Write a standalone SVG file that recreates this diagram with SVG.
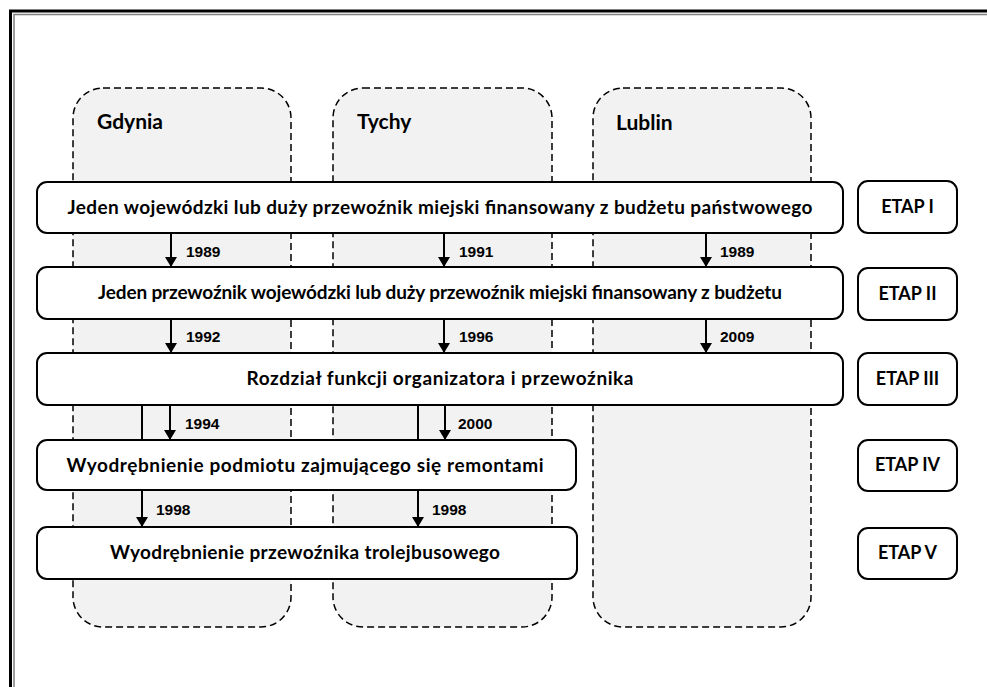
<svg xmlns="http://www.w3.org/2000/svg" width="987" height="687" viewBox="0 0 987 687">
  <defs>
    <marker id="arrow" viewBox="0 0 10 12" refX="10" refY="6" markerWidth="10" markerHeight="12" markerUnits="userSpaceOnUse" orient="auto">
      <path d="M0,0 L10,6 L0,12 Z" fill="#000"/>
    </marker>
  </defs>
  <style>
    .column { fill: #f2f2f2; stroke: #000; stroke-width: 1.5; stroke-dasharray: 7 4; }
    .col-label { font-family: Lato, "Liberation Sans", sans-serif; font-weight: bold; font-size: 21px; fill: #000; }
    .box { fill: #fff; stroke: #000; stroke-width: 2; }
    .box-text { font-family: Lato, "Liberation Sans", sans-serif; font-weight: bold; font-size: 19px; fill: #000; text-anchor: middle; }
    .stage-text { font-family: Lato, "Liberation Sans", sans-serif; font-weight: bold; font-size: 18px; fill: #000; text-anchor: middle; }
    .year { font-family: "Liberation Sans", Arial, sans-serif; font-weight: bold; font-size: 15.5px; fill: #000; }
    .link { stroke: #000; stroke-width: 2; fill: none; }
  </style>

  <rect width="987" height="687" fill="#fff"/>
  <!-- double page frame -->
  <rect x="10.5" y="11" width="1000" height="700" fill="none" stroke="#000" stroke-width="3"/>
  <rect x="14" y="14.5" width="1000" height="700" fill="none" stroke="#808080" stroke-width="1.5"/>

  <!-- city columns -->
  <g id="col-gdynia">
    <rect class="column" x="73" y="88" width="218" height="539" rx="30"/>
    <text class="col-label" x="97" y="129">Gdynia</text>
  </g>
  <g id="col-tychy">
    <rect class="column" x="333" y="88" width="219" height="539" rx="30"/>
    <text class="col-label" x="357" y="129">Tychy</text>
  </g>
  <g id="col-lublin">
    <rect class="column" x="593" y="88" width="218" height="539" rx="30"/>
    <text class="col-label" x="616" y="130">Lublin</text>
  </g>

  <!-- connectors between stages -->
  <g id="connectors">
    <line class="link" x1="171" y1="233" x2="171" y2="267" marker-end="url(#arrow)"/>
    <line class="link" x1="444" y1="233" x2="444" y2="267" marker-end="url(#arrow)"/>
    <line class="link" x1="706" y1="233" x2="706" y2="267" marker-end="url(#arrow)"/>
    <line class="link" x1="171" y1="319" x2="171" y2="353" marker-end="url(#arrow)"/>
    <line class="link" x1="444" y1="319" x2="444" y2="353" marker-end="url(#arrow)"/>
    <line class="link" x1="706" y1="319" x2="706" y2="353" marker-end="url(#arrow)"/>
    <line class="link" x1="170" y1="405" x2="170" y2="440" marker-end="url(#arrow)"/>
    <line class="link" x1="445" y1="405" x2="445" y2="440" marker-end="url(#arrow)"/>
    <line class="link" x1="142" y1="405" x2="142" y2="527" marker-end="url(#arrow)"/>
    <line class="link" x1="418" y1="405" x2="418" y2="527" marker-end="url(#arrow)"/>

    <text class="year" x="186" y="257">1989</text>
    <text class="year" x="459" y="257">1991</text>
    <text class="year" x="720" y="257">1989</text>
    <text class="year" x="186" y="342">1992</text>
    <text class="year" x="459" y="342">1996</text>
    <text class="year" x="720" y="342">2009</text>
    <text class="year" x="185" y="429">1994</text>
    <text class="year" x="458" y="429">2000</text>
    <text class="year" x="156" y="515">1998</text>
    <text class="year" x="432" y="515">1998</text>
  </g>

  <!-- stage boxes -->
  <g id="stage-1">
    <rect class="box" x="37" y="182" width="806" height="51" rx="10"/>
    <text class="box-text" x="440" y="214" textLength="745">Jeden wojewódzki lub duży przewoźnik miejski finansowany z budżetu państwowego</text>
  </g>
  <g id="stage-2">
    <rect class="box" x="37" y="267" width="806" height="52" rx="10"/>
    <text class="box-text" x="440" y="299" textLength="684">Jeden przewoźnik wojewódzki lub duży przewoźnik miejski finansowany z budżetu</text>
  </g>
  <g id="stage-3">
    <rect class="box" x="37" y="353" width="806" height="52" rx="10"/>
    <text class="box-text" x="440" y="385" textLength="387">Rozdział funkcji organizatora i przewoźnika</text>
  </g>
  <g id="stage-4">
    <rect class="box" x="37" y="440" width="539" height="50" rx="10"/>
    <text class="box-text" x="305" y="471.5" textLength="477">Wyodrębnienie podmiotu zajmującego się remontami</text>
  </g>
  <g id="stage-5">
    <rect class="box" x="37" y="527" width="540" height="52" rx="10"/>
    <text class="box-text" x="305" y="559" textLength="390">Wyodrębnienie przewoźnika trolejbusowego</text>
  </g>

  <!-- stage labels -->
  <g id="etap-1">
    <rect class="box" x="858" y="181" width="99" height="52" rx="10"/>
    <text class="stage-text" x="907.5" y="213">ETAP I</text>
  </g>
  <g id="etap-2">
    <rect class="box" x="858" y="268" width="99" height="52" rx="10"/>
    <text class="stage-text" x="907.5" y="300">ETAP II</text>
  </g>
  <g id="etap-3">
    <rect class="box" x="858" y="353" width="99" height="52" rx="10"/>
    <text class="stage-text" x="907.5" y="385">ETAP III</text>
  </g>
  <g id="etap-4">
    <rect class="box" x="858" y="440" width="99" height="51" rx="10"/>
    <text class="stage-text" x="907.5" y="471">ETAP IV</text>
  </g>
  <g id="etap-5">
    <rect class="box" x="858" y="528" width="99" height="51" rx="10"/>
    <text class="stage-text" x="907.5" y="559">ETAP V</text>
  </g>
</svg>
